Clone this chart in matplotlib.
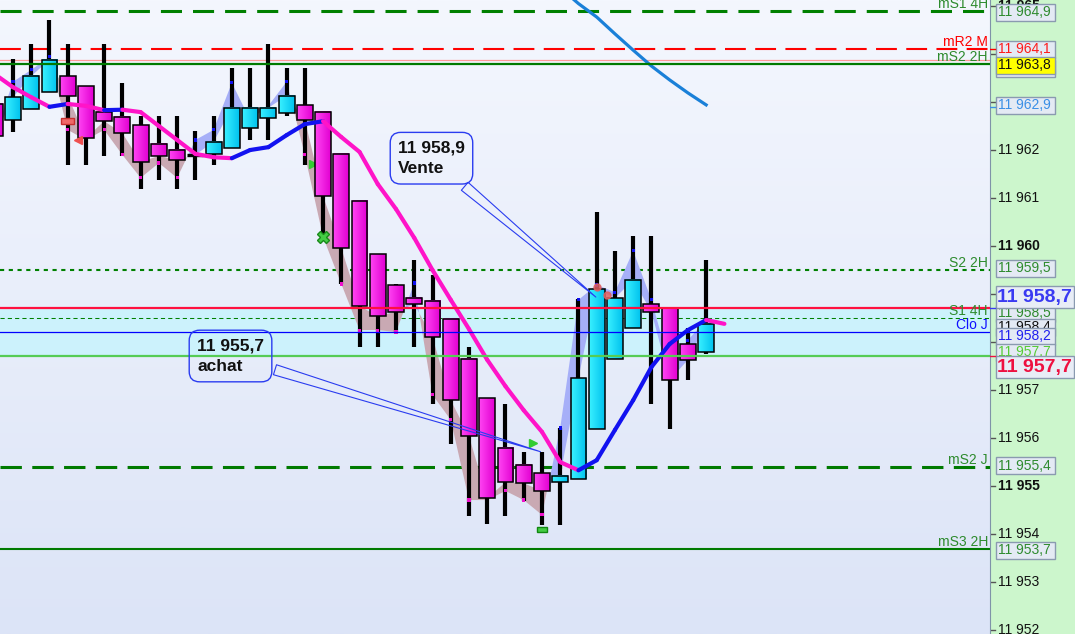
import numpy as np
import matplotlib
matplotlib.use('Agg')
import matplotlib.pyplot as plt
from matplotlib.patches import Rectangle
from matplotlib.collections import LineCollection
from matplotlib.colors import LinearSegmentedColormap

plt.rcParams['font.family'] = ['Liberation Sans', 'DejaVu Sans']

# candles (index 0 is the partial one on the left edge)
opens = [11962.96, 11962.63, 11962.85, 11963.21, 11963.54, 11963.33, 11962.79, 11962.69,
         11962.52, 11962.13, 11962.00, 11961.90, 11961.92, 11962.04, 11962.46, 11962.67,
         11962.77, 11962.94, 11962.79, 11961.92, 11960.94, 11959.83, 11959.19, 11958.92,
         11958.85, 11958.48, 11957.65, 11956.83, 11955.79, 11955.44, 11955.27, 11955.08,
         11955.15, 11956.19, 11957.65, 11958.29, 11958.79, 11958.71, 11957.96, 11957.79]
highs = [11963.10, 11963.90, 11964.21, 11964.71, 11964.21, 11963.33, 11964.21, 11963.40,
         11962.71, 11962.71, 11962.71, 11962.40, 11962.71, 11963.71, 11963.71, 11964.21,
         11963.71, 11963.71, 11962.79, 11961.92, 11960.94, 11959.83, 11959.21, 11959.71,
         11959.40, 11958.48, 11957.90, 11956.83, 11956.71, 11955.71, 11955.71, 11956.21,
         11958.90, 11960.71, 11959.90, 11960.21, 11960.21, 11958.71, 11958.29, 11959.71]
lows = [11962.10, 11962.38, 11962.85, 11963.21, 11961.69, 11961.69, 11961.88, 11961.88,
        11961.19, 11961.38, 11961.19, 11961.38, 11961.69, 11962.04, 11962.21, 11962.21,
        11962.71, 11961.69, 11960.19, 11959.21, 11957.90, 11957.90, 11958.21, 11957.90,
        11956.71, 11955.88, 11954.38, 11954.21, 11954.38, 11954.69, 11954.19, 11954.19,
        11955.15, 11956.19, 11957.65, 11958.29, 11956.71, 11956.19, 11957.21, 11957.75]
closes = [11962.29, 11963.10, 11963.54, 11963.88, 11963.13, 11962.25, 11962.60, 11962.35,
          11961.75, 11961.88, 11961.79, 11961.90, 11962.17, 11962.88, 11962.88, 11962.88,
          11963.13, 11962.63, 11961.04, 11959.96, 11958.75, 11958.54, 11958.63, 11958.79,
          11958.10, 11956.79, 11956.04, 11954.75, 11955.08, 11955.06, 11954.90, 11955.21,
          11957.25, 11959.10, 11958.92, 11959.29, 11958.63, 11957.21, 11957.63, 11958.38]
# swing indicator (small ticks + shaded wedges)
swing = [11962.29, 11963.42, 11963.67, 11963.94, 11962.42, 11962.21, 11962.42, 11961.90,
         11961.42, 11961.73, 11961.42, 11962.21, 11962.42, 11963.40, 11962.63, 11962.92,
         11963.42, 11961.90, 11960.19, 11959.21, 11958.25, 11958.25, 11958.21, 11959.23,
         11956.90, 11956.38, 11954.71, 11954.71, 11954.90, 11954.71, 11954.40, 11956.21,
         11958.88, 11959.19, 11959.04, 11959.90, 11958.88, 11957.52, 11958.04, 11958.46]
# moving average, coloured by slope
ma = [11963.58, 11963.31, 11963.10, 11962.90, 11962.96, 11962.92, 11962.83, 11962.84,
      11962.79, 11962.50, 11962.21, 11961.92, 11961.85, 11961.83, 11962.00, 11962.06,
      11962.31, 11962.54, 11962.60, 11962.27, 11961.96, 11961.29, 11960.77, 11960.17,
      11959.50, 11958.88, 11958.27, 11957.63, 11957.08, 11956.58, 11956.13, 11955.50,
      11955.33, 11955.54, 11956.17, 11956.79, 11957.48, 11957.96, 11958.25, 11958.46,
      11958.38]
# higher timeframe average (top right)
htf_idx = [31, 32, 33, 34, 35, 36, 37, 38, 39]
htf_ma = [11965.38, 11965.05, 11964.77, 11964.42, 11964.08, 11963.75, 11963.46, 11963.19, 11962.94]

# horizontal levels
level_vals = [11964.9, 11964.1, 11963.87, 11963.8, 11959.5, 11958.72, 11958.5, 11958.2, 11957.72,
              11955.4, 11953.7]
level_names = ['mS1 4H', 'mR2 M', '', 'mS2 2H', 'S2 2H', '', 'S1 4H', 'Clo J', '', 'mS2 J', 'mS3 2H']
level_colors = ['#008000', '#ff0000', '#ff9999', '#007a00', '#008000', '#ff1040', '#008000',
                '#0000ff', '#55cc55', '#007a00', '#007a00']
label_colors = ['#2e8b2e', '#ff0000', '', '#2e8b2e', '#2e8b2e', '', '#2e8b2e', '#1010ff', '',
                '#2e8b2e', '#2e8b2e']

band_lo, band_hi = 11957.72, 11958.72

ticks = list(range(11952, 11966))
hidden_ticks = [11958, 11959, 11963, 11964]

sell_price, sell_idx = 11958.9, 33.07
buy_price, buy_idx = 11955.7, 30.06

Y0, Y1 = 11951.92, 11965.125
X0, X1 = 0.29, 54.56
PX = 48.0  # pixels per price unit


def fmt(v, nd=1):
    return f"{v:,.{nd}f}".replace(',', ' ').replace('.', ',')


fig = plt.figure(figsize=(10.75, 6.34), dpi=100)
ax = fig.add_axes([0, 0, 990 / 1075, 1])
ax2 = fig.add_axes([990 / 1075, 0, 85 / 1075, 1])

bg = LinearSegmentedColormap.from_list('bg', ['#f4f7fe', '#dce4f7'])
ax.imshow(np.linspace(0, 1, 256).reshape(-1, 1), cmap=bg, extent=[X0, X1, Y0, Y1],
          aspect='auto', zorder=0, origin='upper')
ax.axhspan(band_lo, band_hi, color='#ccf2fc', zorder=1, lw=0)

# level lines
styles = {
    11964.9: (2.2, (0, (6.9, 3.6)), 2),
    11964.1: (1.5, (0, (10, 4.5)), 2),
    11963.87: (0.9, '-', 2),
    11963.8: (1.6, '-', 6),
    11959.5: (1.5, (0, (2, 2.2)), 2),
    11958.72: (1.6, '-', 6),
    11958.5: (0.75, (0, (4, 3)), 2),
    11958.2: (0.9, '-', 6),
    11957.72: (1.6, '-', 6),
    11955.4: (2.2, (0, (7, 3.4)), 2),
    11953.7: (1.5, '-', 6),
}
for v, c in zip(level_vals, level_colors):
    lw, ls, z = styles[v]
    ax.axhline(v, color=c, lw=lw, ls=ls, zorder=z)
for v, n, c in zip(level_vals, level_names, label_colors):
    if n:
        ax.text(54.45, v + 3 / PX, n, ha='right', va='baseline', fontsize=10, color=c, zorder=7)

idx = np.arange(len(closes))
cl = np.array(closes)
sw = np.array(swing)
ax.fill_between(idx, cl, sw, where=sw > cl, interpolate=True, color='#a6aff8', lw=0, zorder=2.5)
ax.fill_between(idx, cl, sw, where=sw < cl, interpolate=True, color='#c9a9b3', lw=0, zorder=2.5)

# candles
up_cm = LinearSegmentedColormap.from_list('up', ['#3af0ff', '#00c2ee'])
dn_cm = LinearSegmentedColormap.from_list('dn', ['#ff45f2', '#e200d2'])
grad = np.linspace(0, 1, 32).reshape(1, -1)
bw = 0.87
ax.vlines(idx, lows, highs, color='black', lw=3.0, zorder=3)
for i, (o, c) in enumerate(zip(opens, closes)):
    lo, hi = min(o, c), max(o, c)
    if hi - lo < 0.02:
        ax.hlines(o, i - bw / 2, i + bw / 2, color='black', lw=2.4, zorder=4)
        continue
    ax.imshow(grad, cmap=up_cm if c > o else dn_cm, extent=[i - bw / 2, i + bw / 2, lo, hi],
              aspect='auto', zorder=4, interpolation='bilinear')
    ax.add_patch(Rectangle((i - bw / 2, lo), bw, hi - lo, fc='none', ec='black', lw=1.1, zorder=4.1))

tick_col = ['#1010ee' if s > c else '#ee10cc' for s, c in zip(swing, closes)]
keep = [abs(s - c) > 0.05 for s, c in zip(swing, closes)]
ax.scatter(idx[keep], sw[keep], marker='s', s=5, c=np.array(tick_col)[keep], zorder=3.5, lw=0)

# slope-coloured average
mx = np.arange(len(ma))
pts = np.column_stack([mx, ma])
segs = np.stack([pts[:-1], pts[1:]], axis=1)
seg_col = ['#1212f0' if ma[k + 1] > ma[k] else '#ff14c8' for k in range(len(ma) - 1)]
ax.add_collection(LineCollection(segs, colors=seg_col, lw=3.0, zorder=5, capstyle='round'))
ax.plot(htf_idx, htf_ma, color='#1a80d8', lw=2.3, zorder=5)

# signal markers
ax.add_patch(Rectangle((4 - 0.36, 11962.6 - 3 / PX), 0.72, 6 / PX, fc='#f06868', ec='#c83030',
                       lw=1, zorder=5.5))
ax.plot([4.56], [11962.21], marker='<', ms=6, color='#ee5050', zorder=5.5)
ax.plot([17.45], [11961.71], marker='>', ms=6, color='#33cc33', zorder=3.8)
ax.plot([18], [11960.19], marker='X', ms=9, color='#44cc44', mec='#1a8a1a', zorder=5.5)
ax.plot([29.5], [11955.9], marker='>', ms=6, color='#33cc33', zorder=5.5)
ax.add_patch(Rectangle((30 - 0.3, 11954.1 - 2.5 / PX), 0.6, 5 / PX, fc='#44cc44', ec='#118811',
                       lw=1, zorder=5.5))
ax.plot([33, 33.55], [11959.15, 11958.98], 'o', ms=5, color='#e06060', alpha=0.85, zorder=5.5)

# callouts
for txt, tx, ty, xi, yv in [(fmt(sell_price) + '\nVente', 22.11, 11961.83, sell_idx, sell_price),
                            (fmt(buy_price) + '\nachat', 11.09, 11957.71, buy_idx, buy_price)]:
    ax.annotate(txt, xy=(xi, yv), xytext=(tx, ty), textcoords='data', ha='left', va='center',
                fontsize=12.5, fontweight='bold', color='#111111', linespacing=1.5, zorder=8,
                bbox=dict(boxstyle='round,pad=0.45,rounding_size=0.6', fc='none', ec='#2a3cf0', lw=1),
                arrowprops=dict(arrowstyle='wedge,tail_width=0.6,shrink_factor=0.5', fc='none',
                                ec='#2a3cf0', lw=0.8))

ax.set_xlim(X0, X1)
ax.set_ylim(Y0, Y1)
ax.axis('off')

# right price scale
ax2.set_facecolor('#ccf6cc')
ax2.set_xlim(0, 85)
ax2.set_ylim(Y0, Y1)
for s in ['top', 'right', 'bottom']:
    ax2.spines[s].set_visible(False)
ax2.spines['left'].set_color('#7f93a8')
ax2.set_xticks([])
ax2.set_yticks([])
for t in ticks:
    ax2.plot([0, 5], [t, t], color='#555555', lw=1, zorder=2)
    if t in hidden_ticks:
        continue
    ax2.text(8, t, fmt(t, 0), ha='left', va='center', fontsize=10, color='#111111',
             fontweight='bold' if t % 5 == 0 else 'normal', zorder=2)

# (value, centre, colour, fill, big)
boxes = [
    (11964.9, 11964.875, '#2e8b2e', '#e4eaf4', False),
    (11964.1, 11964.104, '#ff1a1a', '#e4eaf4', False),
    (11963.9, 11963.70, '#ff1a1a', '#e4eaf4', False),
    (11963.8, 11963.771, '#111111', '#ffff00', False),
    (11962.9, 11962.9375, '#3a8fe6', '#e4eaf4', False),
    (11959.5, 11959.542, '#2e8b2e', '#e4eaf4', False),
    (11958.5, 11958.60, '#2e8b2e', '#e4eaf4', False),
    (11958.4, 11958.31, '#111111', '#e4eaf4', False),
    (11958.2, 11958.125, '#2020ee', '#e4eaf4', False),
    (11957.7, 11957.79, '#55cc33', '#e4eaf4', False),
    (11957.7, 11957.48, '#ee1040', '#e8edf6', True),
    (11958.7, 11958.9375, '#3a3af2', '#e8edf6', True),
    (11955.4, 11955.42, '#2e8b2e', '#e4eaf4', False),
    (11953.7, 11953.667, '#2e8b2e', '#e4eaf4', False),
]
for z, (v, yc, col, fc, big) in enumerate(boxes):
    h = (22 if big else 17) / PX
    w = 78 if big else 59
    ax2.add_patch(Rectangle((6, yc - h / 2), w, h, fc=fc, ec='#8a9ab0', lw=1, zorder=10 + z))
    ax2.text(7 if big else 8, yc, fmt(v), ha='left', va='center', color=col,
             fontsize=14 if big else 10, fontweight='bold' if big else 'normal', zorder=10.5 + z)
for v, c in [(11964.1, '#ff0000'), (11962.9, '#3a8fe6'), (11958.7, '#3a3af2'), (11957.7, '#ee1040')]:
    ax2.plot([0, 5], [v, v], color=c, lw=1, zorder=30)

fig.savefig('out.png', dpi=100)
